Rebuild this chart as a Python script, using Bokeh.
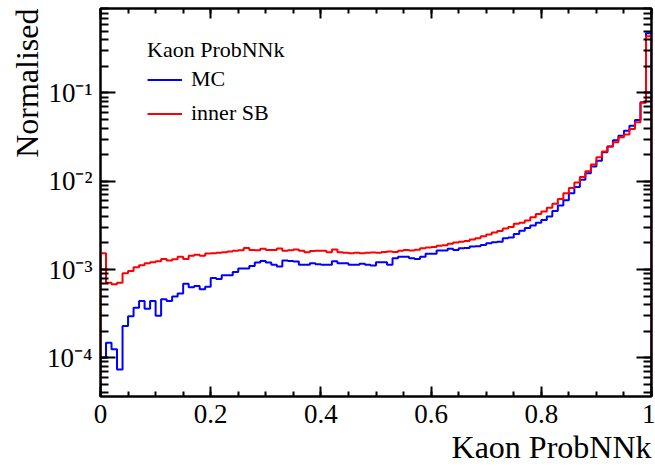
from bokeh.plotting import figure
from bokeh.models import (LinearAxis, LogAxis, Legend, LegendItem, Title,
                          CustomJSTickFormatter, FixedTicker, Range1d)
from bokeh.embed import file_html
from bokeh.resources import INLINE

# ---------------- data ----------------
x_min, x_max, n_bins = 0.0, 1.0, 100

mc = [
    1.0e-4, 1.48e-4, 1.25e-4, 7.4e-5, 2.3e-4, 2.95e-4, 3.7e-4, 4.4e-4, 3.6e-4, 4.4e-4,
    3.0e-4, 4.6e-4, 4.4e-4, 4.95e-4, 5.35e-4, 6.9e-4, 6.3e-4, 6.5e-4, 6.0e-4, 6.4e-4,
    8.0e-4, 7.8e-4, 8.6e-4, 8.6e-4, 9.4e-4, 1.03e-3, 1.03e-3, 1.10e-3, 1.20e-3, 1.25e-3,
    1.20e-3, 1.13e-3, 1.08e-3, 1.27e-3, 1.25e-3, 1.23e-3, 1.13e-3, 1.13e-3, 1.18e-3, 1.15e-3,
    1.13e-3, 1.13e-3, 1.24e-3, 1.18e-3, 1.18e-3, 1.13e-3, 1.13e-3, 1.16e-3, 1.13e-3, 1.11e-3,
    1.21e-3, 1.21e-3, 1.13e-3, 1.34e-3, 1.40e-3, 1.40e-3, 1.34e-3, 1.32e-3, 1.40e-3, 1.51e-3,
    1.51e-3, 1.64e-3, 1.64e-3, 1.72e-3, 1.66e-3, 1.74e-3, 1.76e-3, 1.82e-3, 1.84e-3, 1.90e-3,
    1.98e-3, 2.04e-3, 2.07e-3, 2.26e-3, 2.30e-3, 2.53e-3, 2.76e-3, 2.96e-3, 3.15e-3, 3.38e-3,
    3.65e-3, 3.98e-3, 4.6e-3, 5.3e-3, 6.1e-3, 7.3e-3, 8.6e-3, 1.04e-2, 1.23e-2, 1.47e-2,
    1.71e-2, 2.13e-2, 2.47e-2, 2.92e-2, 3.27e-2, 3.73e-2, 4.26e-2, 4.95e-2, 7.83e-2, 4.75e-1,
]

inner_sb = [
    1.53e-3, 7.1e-4, 6.8e-4, 7.1e-4, 9.1e-4, 9.6e-4, 1.06e-3, 1.12e-3, 1.18e-3, 1.21e-3,
    1.24e-3, 1.32e-3, 1.27e-3, 1.31e-3, 1.40e-3, 1.32e-3, 1.43e-3, 1.47e-3, 1.43e-3, 1.52e-3,
    1.53e-3, 1.55e-3, 1.57e-3, 1.60e-3, 1.63e-3, 1.65e-3, 1.76e-3, 1.67e-3, 1.65e-3, 1.72e-3,
    1.67e-3, 1.67e-3, 1.73e-3, 1.63e-3, 1.65e-3, 1.69e-3, 1.63e-3, 1.57e-3, 1.62e-3, 1.63e-3,
    1.63e-3, 1.57e-3, 1.69e-3, 1.57e-3, 1.55e-3, 1.53e-3, 1.55e-3, 1.53e-3, 1.55e-3, 1.56e-3,
    1.55e-3, 1.58e-3, 1.60e-3, 1.58e-3, 1.63e-3, 1.66e-3, 1.64e-3, 1.68e-3, 1.74e-3, 1.78e-3,
    1.80e-3, 1.86e-3, 1.88e-3, 1.96e-3, 2.02e-3, 2.06e-3, 2.10e-3, 2.19e-3, 2.26e-3, 2.38e-3,
    2.50e-3, 2.62e-3, 2.74e-3, 2.92e-3, 3.04e-3, 3.30e-3, 3.40e-3, 3.60e-3, 3.91e-3, 4.27e-3,
    4.55e-3, 5.0e-3, 5.55e-3, 6.3e-3, 7.3e-3, 8.4e-3, 9.7e-3, 1.12e-2, 1.30e-2, 1.55e-2,
    1.87e-2, 2.17e-2, 2.47e-2, 2.77e-2, 3.15e-2, 3.38e-2, 3.92e-2, 4.66e-2, 7.73e-2, 4.40e-1,
]

series_labels = ["MC", "inner SB"]
legend_title = "Kaon ProbNNk"
x_title = "Kaon ProbNNk"
y_title = "Normalised"

x_ticks = [0.0, 0.2, 0.4, 0.6, 0.8, 1.0]
x_tick_labels = ["0", "0.2", "0.4", "0.6", "0.8", "1"]
x_minor = [i * 0.05 for i in range(21)]

y_ticks = [1e-4, 1e-3, 1e-2, 1e-1]
y_tick_labels = ["10\u207b\u2074", "10\u207b\u00b3", "10\u207b\u00b2", "10\u207b\u00b9"]
y_minor = [m * 10.0 ** e for e in range(-5, 1) for m in range(1, 10)]

y_lo, y_hi = 3.65e-5, 0.905
FONT = "Liberation Serif"

# ---------------- helpers ----------------
width = (x_max - x_min) / n_bins
edges = [x_min + i * width for i in range(n_bins + 1)]
floor = 1e-7


def step_path(vals):
    xs, ys = [edges[0]], [floor]
    for i, v in enumerate(vals):
        xs += [edges[i], edges[i + 1]]
        ys += [v, v]
    xs.append(edges[-1])
    ys.append(floor)
    return xs, ys


# ---------------- figure ----------------
p = figure(width=655, height=469, y_axis_type="log",
           x_range=Range1d(x_min, x_max), y_range=Range1d(y_lo, y_hi),
           output_backend="svg", toolbar_location=None,
           min_border_left=100, min_border_right=4, min_border_top=8, min_border_bottom=73)
p.xgrid.visible = False
p.ygrid.visible = False
p.outline_line_color = "black"
p.outline_line_width = 2
p.background_fill_color = "white"
p.border_fill_color = "white"

xs, ys = step_path(mc)
r_mc = p.line(xs, ys, line_color="#0000ff", line_width=2)
xs, ys = step_path(inner_sb)
r_sb = p.line(xs, ys, line_color="#ff0000", line_width=2)

x_fmt = CustomJSTickFormatter(args=dict(vals=x_ticks, labels=x_tick_labels), code="""
for (let i = 0; i < vals.length; i++) { if (Math.abs(tick - vals[i]) < 1e-9) return labels[i]; }
return "";
""")
y_fmt = CustomJSTickFormatter(args=dict(vals=y_ticks, labels=y_tick_labels), code="""
for (let i = 0; i < vals.length; i++) { if (Math.abs(Math.log10(tick) - Math.log10(vals[i])) < 1e-6) return labels[i]; }
return "";
""")
blank_fmt = CustomJSTickFormatter(code="return '';")


def style_axis(ax, major, minor, show_labels):
    ax.axis_line_width = 2
    ax.axis_line_color = "black"
    ax.major_tick_in = major
    ax.major_tick_out = 0
    ax.minor_tick_in = minor
    ax.minor_tick_out = 0
    ax.major_tick_line_width = 2
    ax.minor_tick_line_width = 2
    ax.major_tick_line_color = "black"
    ax.minor_tick_line_color = "black"
    ax.major_label_text_font = FONT
    ax.major_label_text_font_size = "27px"
    ax.major_label_text_color = "black"
    if not show_labels:
        ax.formatter = blank_fmt
        ax.major_label_standoff = 0


xa = p.xaxis[0]
xa.ticker = FixedTicker(ticks=x_ticks, minor_ticks=x_minor)
xa.formatter = x_fmt
style_axis(xa, 10, 5, True)
xa.major_label_standoff = 8

ya = p.yaxis[0]
ya.ticker = FixedTicker(ticks=y_ticks, minor_ticks=y_minor)
ya.formatter = y_fmt
style_axis(ya, 15, 8, True)
ya.major_label_standoff = 8

top = LinearAxis(ticker=FixedTicker(ticks=x_ticks, minor_ticks=x_minor))
style_axis(top, 10, 5, False)
p.add_layout(top, "above")
right = LogAxis(ticker=FixedTicker(ticks=y_ticks, minor_ticks=y_minor))
style_axis(right, 15, 8, False)
p.add_layout(right, "right")

p.add_layout(Title(text=x_title, align="right", text_font=FONT, text_font_size="32px",
                   text_font_style="normal", text_color="black", offset=0, standoff=2), "below")
p.add_layout(Title(text=y_title, align="right", text_font=FONT, text_font_size="32px",
                   text_font_style="normal", text_color="black", offset=0, standoff=0), "left")

legend = Legend(items=[LegendItem(label=series_labels[0], renderers=[r_mc]),
                       LegendItem(label=series_labels[1], renderers=[r_sb])],
                title=legend_title, location=(47, 270),
                title_text_font=FONT, title_text_font_size="22px", title_text_font_style="normal",
                title_text_color="black",
                label_text_font=FONT, label_text_font_size="22px", label_text_color="black",
                glyph_width=35, glyph_height=25, label_height=25, spacing=8,
                label_standoff=9, padding=8, margin=0, title_standoff=3,
                border_line_color=None, background_fill_alpha=0)
p.add_layout(legend)

open("out.html", "w").write(file_html(p, INLINE))
